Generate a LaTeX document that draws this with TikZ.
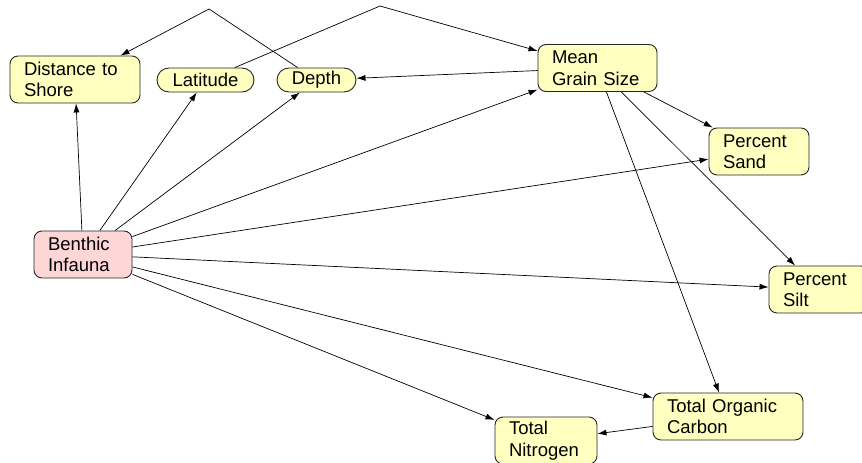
\documentclass[tikz,border=0pt]{standalone}
\usepackage{fontspec}
\setmainfont{Liberation Sans}
\usetikzlibrary{arrows.meta}
\definecolor{notefill}{RGB}{255,255,192}
\definecolor{keyfill}{RGB}{255,214,214}

\begin{document}
\begin{tikzpicture}[x=1pt,y=-1pt,font=\fontsize{18.5}{21.5}\selectfont,
	box/.style={draw=black!85,line width=0.9pt,fill=notefill,rounded corners=8pt,align=left,inner xsep=14pt,inner ysep=0pt,minimum height=47pt},
	oval/.style={draw=black!85,line width=0.9pt,fill=notefill,rounded corners=12pt,inner sep=0pt,minimum height=24pt},
	edge/.style={line width=0.7pt,->,>={Latex[length=9pt,width=6pt]}}]
	\useasboundingbox (0,0) rectangle (862,463);

	% variables
	\node[box,text width=102pt] (shore) at (75,79.5) {Distance to\\Shore};
	\node[oval,minimum width=97pt] (lat) at (205.5,80) {Latitude};
	\node[oval,minimum width=79pt] (depth) at (316.5,80) {Depth};
	\node[box,text width=91pt] (grain) at (597.5,68) {Mean\\Grain Size};
	\node[box,text width=72pt] (sand) at (759,151.5) {Percent\\Sand};
	\node[box,text width=72pt] (silt) at (819,289.5) {Percent\\Silt};
	\node[box,text width=70pt,fill=keyfill] (infauna) at (83,254.5) {Benthic\\Infauna};
	\node[box,text width=122pt] (toc) at (728,416.5) {Total Organic\\Carbon};
	\node[box,text width=74pt] (tn) at (546,440.5) {Total\\Nitrogen};

	\coordinate (kinkA) at (209,9);
	\coordinate (kinkB) at (380,6);

	\foreach \t in {shore,lat,depth,grain,sand,silt,toc,tn} { \draw[edge] (infauna) -- (\t);}
	\foreach \t in {depth,sand,silt,toc} { \draw[edge] (grain) -- (\t);}
	\draw[edge] (toc) -- (tn);
	\draw[edge] (depth) -- (kinkA) -- (shore);
	\draw[edge] (lat) -- (kinkB) -- (grain);
\end{tikzpicture}
\end{document}
